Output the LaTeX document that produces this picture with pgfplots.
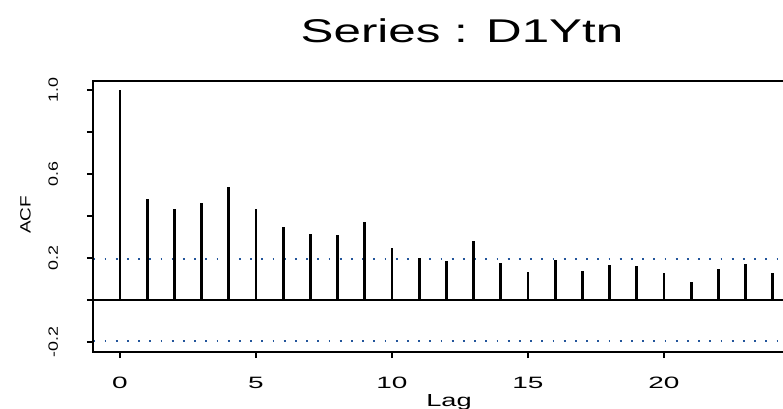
\documentclass[border=0pt]{standalone}
\usepackage{pgfplots}
\pgfplotsset{compat=1.18}
\usepackage{fontspec}
\setmainfont{Liberation Sans}
\usepackage{graphicx}
\definecolor{rblue}{RGB}{35,85,155}
\newcommand\XT[1]{{\fontsize{16.5}{16.5}\selectfont\scalebox{1.7}[1]{#1}}}
\newcommand\YT[1]{{\fontsize{13.5}{13.5}\selectfont\scalebox{1.33}[1]{#1}}}
\begin{document}
\begin{tikzpicture}
\path[use as bounding box] (0bp,0bp) rectangle (783bp,409bp);
\begin{axis}[
  at={(93.3bp,57.3bp)}, anchor=south west,
  scale only axis, width=689.7bp, height=271bp,
  xmin=-0.98, xmax=24.375, ymin=-0.2475, ymax=1.045,
  axis line style={draw=none},
  clip=false,
  tick align=outside, tick pos=left,
  major tick length=6.5bp,
  tick style={black, line width=2.3bp},
  xtick={0,5,10,15,20},
  xticklabels={\XT{0},\XT{5},\XT{10},\XT{15},\XT{20}},
  ytick={-0.2,0,0.2,0.4,0.6,0.8,1.0},
  yticklabels={\YT{-0.2},{},\YT{0.2},{},\YT{0.6},{},\YT{1.0}},
  xticklabel style={anchor=base, inner sep=0pt, yshift=-30.5bp},
  yticklabel style={xshift=-28.5bp, rotate=90, anchor=south, inner sep=0pt},
]
\addplot[rblue, line width=1.8bp, dash pattern=on 1.8bp off 9.4bp, forget plot] coordinates {(-0.98,0.196) (24.375,0.196)};
\addplot[rblue, line width=1.8bp, dash pattern=on 1.8bp off 9.4bp, forget plot] coordinates {(-0.98,-0.196) (24.375,-0.196)};
\addplot[black, line width=2bp, forget plot] coordinates {(-0.98,0) (24.375,0)};
\addplot[ycomb, black, line width=2.8bp, mark=none] coordinates {
(0,1.0) (1,0.479) (2,0.433) (3,0.463) (4,0.536) (5,0.433) (6,0.347) (7,0.312)
(8,0.309) (9,0.369) (10,0.246) (11,0.201) (12,0.184) (13,0.279) (14,0.177)
(15,0.131) (16,0.191) (17,0.137) (18,0.166) (19,0.163) (20,0.126) (21,0.083)
(22,0.148) (23,0.172) (24,0.126)};
\draw[black, line width=2.3bp, line join=miter] (rel axis cs:1,0) -- (rel axis cs:0,0) -- (rel axis cs:0,1) -- (rel axis cs:1,1);
\end{axis}
\node[font=\fontsize{33}{33}\selectfont, anchor=base, inner sep=0pt] at (462bp,366bp) {\scalebox{1.5}[1]{Series : D1Ytn}};
\node[font=\fontsize{17.5}{17.5}\selectfont, anchor=base, inner sep=0pt] at (449bp,3bp) {\scalebox{1.56}[1]{Lag}};
\node[font=\fontsize{15}{15}\selectfont, rotate=90, anchor=south, inner sep=0pt] at (31bp,194bp) {\scalebox{1.27}[1]{ACF}};
\end{tikzpicture}
\end{document}
